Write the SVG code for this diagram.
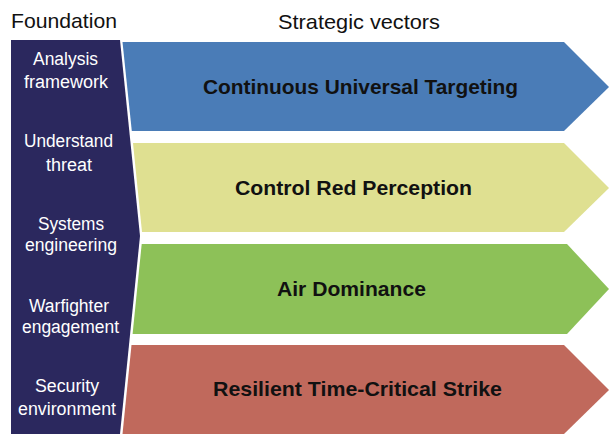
<svg xmlns="http://www.w3.org/2000/svg" width="609" height="434" viewBox="0 0 609 434">
<style>
.hdr{font-family:"Liberation Sans",Arial,sans-serif;font-size:21px;fill:#111}
.lbl{font-family:"Liberation Sans",Arial,sans-serif;font-size:20.8px;font-weight:bold;fill:#111}
.fnd{font-family:"Liberation Sans",Arial,sans-serif;font-size:18px;fill:#fff}
</style>
<rect width="609" height="434" fill="#fff"/>
<text class="hdr" x="11" y="28" textLength="106" lengthAdjust="spacingAndGlyphs">Foundation</text>
<text class="hdr" x="278" y="29" textLength="162" lengthAdjust="spacingAndGlyphs">Strategic vectors</text>
<g id="foundation">
<polygon points="11,40 120,40 140,236 120,434 11,434" fill="#2b285e"/>
<text class="fnd" x="33" y="65" textLength="65" lengthAdjust="spacingAndGlyphs">Analysis</text>
<text class="fnd" x="24" y="88" textLength="84" lengthAdjust="spacingAndGlyphs">framework</text>
<text class="fnd" x="24" y="147" textLength="89" lengthAdjust="spacingAndGlyphs">Understand</text>
<text class="fnd" x="46" y="171" textLength="46" lengthAdjust="spacingAndGlyphs">threat</text>
<text class="fnd" x="38" y="230" textLength="66" lengthAdjust="spacingAndGlyphs">Systems</text>
<text class="fnd" x="25" y="251" textLength="92" lengthAdjust="spacingAndGlyphs">engineering</text>
<text class="fnd" x="29" y="312" textLength="80" lengthAdjust="spacingAndGlyphs">Warfighter</text>
<text class="fnd" x="22" y="333" textLength="97" lengthAdjust="spacingAndGlyphs">engagement</text>
<text class="fnd" x="35" y="392" textLength="64" lengthAdjust="spacingAndGlyphs">Security</text>
<text class="fnd" x="18" y="415" textLength="98" lengthAdjust="spacingAndGlyphs">environment</text>
</g>
<g id="v1">
<polygon points="122.5,42 564,42 609,87 564,131 131.8,131" fill="#4a7cb7"/>
<text class="lbl" x="203" y="94" textLength="315" lengthAdjust="spacingAndGlyphs">Continuous Universal Targeting</text>
</g>
<g id="v2">
<polygon points="133,143 564,143 609,188 564,232 142,232" fill="#dfe091"/>
<text class="lbl" x="235" y="195" textLength="237" lengthAdjust="spacingAndGlyphs">Control Red Perception</text>
</g>
<g id="v3">
<polygon points="141.7,244 567,244 609,289 567,334 132.6,334" fill="#8dc158"/>
<text class="lbl" x="277" y="295.5" textLength="149" lengthAdjust="spacingAndGlyphs">Air Dominance</text>
</g>
<g id="v4">
<polygon points="131.5,345 564,345 609,390 564,434 122.5,434" fill="#c0695c"/>
<text class="lbl" x="213" y="396" textLength="289" lengthAdjust="spacingAndGlyphs">Resilient Time-Critical Strike</text>
</g>
<g id="connectors"></g>
</svg>
